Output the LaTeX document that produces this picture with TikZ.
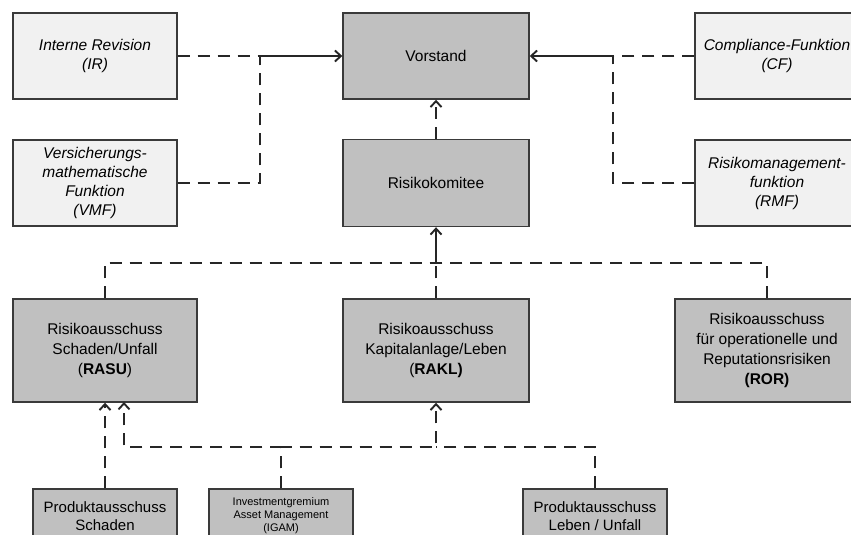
\documentclass[tikz,border=0pt]{standalone}
\usepackage{fontspec}
\setmainfont{Liberation Sans}
\usetikzlibrary{arrows.meta}
\definecolor{darkbox}{HTML}{C0C0C0}
\definecolor{lightbox}{HTML}{F1F1F1}
\definecolor{edgecol}{HTML}{3A3A3A}
\begin{document}
\begin{tikzpicture}[x=1pt,y=-1pt,
  box/.style={draw=edgecol,line width=1.4pt,align=center,inner sep=2pt,font=\fontsize{15.5}{20}\selectfont},
  dbox/.style={box,fill=darkbox},
  lbox/.style={box,fill=lightbox,font=\fontsize{15.5}{19}\selectfont\itshape},
  conn/.style={line width=2pt,black!85},
  dsh/.style={conn,dash pattern=on 12pt off 8pt},
  arr/.style={-{Straight Barb[length=6pt,width=11pt,line width=1.9pt]}}
]
\useasboundingbox (0,0) rectangle (851,535);
\clip (0,0) rectangle (851,535);
\fill[white] (0,0) rectangle (851,535);

% top row
\node[lbox,minimum width=164pt,minimum height=86pt] (IR) at (95,56) {Interne Revision\\(IR)};
\node[lbox,minimum width=164pt,minimum height=86pt] (VMF) at (95,183) {Versicherungs-\\mathematische\\Funktion\\(VMF)};
\node[dbox,minimum width=186pt,minimum height=86pt] (V) at (436,56) {Vorstand};
\node[dbox,minimum width=186pt,minimum height=87pt] (RK) at (436,183) {Risikokomitee};
\node[lbox,minimum width=164pt,minimum height=86pt] (CF) at (777,56) {Compliance-Funktion\\(CF)};
\node[lbox,minimum width=164pt,minimum height=86pt] (RMF) at (777,183) {Risikomanagement-\\funktion\\(RMF)};

% committees
\node[dbox,minimum width=184pt,minimum height=103pt] (RASU) at (105,350.5) {Risikoausschuss\\Schaden/Unfall\\(\textbf{RASU})};
\node[dbox,minimum width=186pt,minimum height=103pt] (RAKL) at (436,350.5) {Risikoausschuss\\Kapitalanlage/Leben\\(\textbf{RAKL)}};
\node[dbox,minimum width=184pt,minimum height=103pt] (ROR) at (767,350.5) {Risikoausschuss\\für operationelle und\\Reputationsrisiken\\\textbf{(ROR)}};

% bottom
\node[dbox,minimum width=144pt,minimum height=54pt,font=\fontsize{15}{18}\selectfont] (PS) at (105,516) {Produktausschuss\\Schaden};
\node[dbox,minimum width=144pt,minimum height=54pt,font=\fontsize{11}{13}\selectfont] (IGAM) at (281,516) {Investmentgremium\\Asset Management\\(IGAM)};
\node[dbox,minimum width=144pt,minimum height=54pt,font=\fontsize{15}{18}\selectfont] (PLU) at (595,516) {Produktausschuss\\Leben / Unfall};

% junctions
\coordinate (j1) at (260,56);
\coordinate (j2) at (613,56);
\coordinate (j3) at (436,263);
\coordinate (j4) at (436,447);
\coordinate (rasuin) at (124,402);

% top connectors
\draw[dsh] (IR.east) -- (j1);
\draw[conn,arr] (j1) -- (V.west);
\draw[dsh] (VMF.east) -| (j1);
\draw[dsh] (CF.west) -- (j2);
\draw[conn,arr] (j2) -- (V.east);
\draw[dsh] (RMF.west) -| (j2);
\draw[dsh,arr] (RK.north) -- (V.south);

% committees to Risikokomitee
\draw[dsh] (RASU.north) |- (j3);
\draw[dsh] (ROR.north) |- (j3);
\draw[dsh] (RAKL.north) -- (j3);
\draw[conn,arr] (j3) -- (RK.south);

% bottom connectors
\draw[dsh,arr] (PS.north) -- (RASU.south);
\draw[dsh,arr] (IGAM.north) |- (rasuin |- j4) -- (rasuin);
\draw[dsh,arr] (IGAM.north) |- (j4) -- (RAKL.south);
\draw[dsh] (PLU.north) |- (j4);
\end{tikzpicture}
\end{document}
